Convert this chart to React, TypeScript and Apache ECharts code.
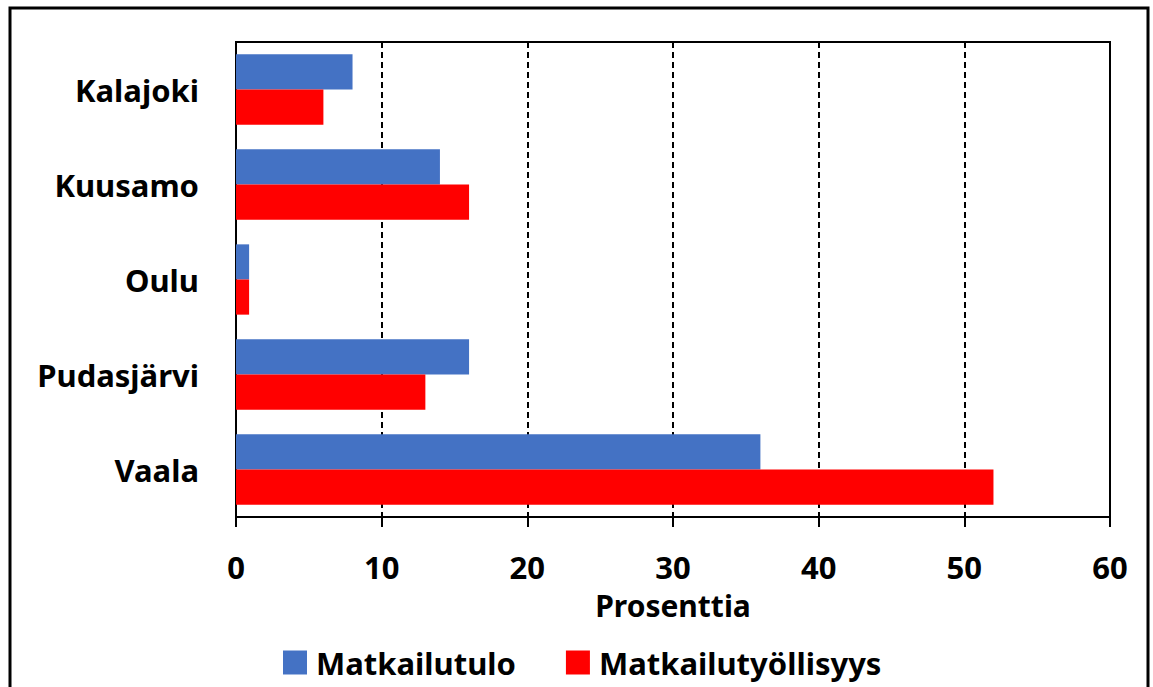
import React, { useEffect, useRef } from "react";
import * as echarts from "echarts";

const categories = ["Kalajoki", "Kuusamo", "Oulu", "Pudasjärvi", "Vaala"];
const seriesNames = ["Matkailutulo", "Matkailutyöllisyys"];
const matkailutulo = [8, 14, 0.9, 16, 36];
const matkailutyollisyys = [6, 16, 0.9, 13, 52];

const FONT = "'Noto Sans', sans-serif";

export default function App() {
  const ref = useRef<HTMLDivElement>(null);
  useEffect(() => {
    if (!ref.current) return;
    const chart = echarts.init(ref.current, undefined, { renderer: "svg" });
    chart.setOption({
      animation: false,
      backgroundColor: "#fff",
      textStyle: { fontFamily: FONT },
      grid: {
        left: 236,
        right: 43,
        top: 42,
        bottom: 170,
        show: true,
        borderColor: "#000",
        borderWidth: 2,
      },
      legend: {
        left: 283,
        top: 647,
        padding: 0,
        itemWidth: 24,
        itemHeight: 24,
        itemGap: 50,
        icon: "rect",
        data: seriesNames,
        textStyle: { fontFamily: FONT, fontSize: 31, fontWeight: "bold", color: "#000", padding: [0, 0, 0, 4] },
      },
      xAxis: {
        type: "value",
        min: 0,
        max: 60,
        interval: 10,
        name: "Prosenttia",
        nameLocation: "middle",
        nameGap: 73,
        nameTextStyle: { fontFamily: FONT, fontSize: 30, fontWeight: "bold", color: "#000" },
        axisLine: { show: true, lineStyle: { color: "#000", width: 2 } },
        axisTick: { show: true, length: 10, lineStyle: { color: "#000", width: 2 } },
        axisLabel: { margin: 34, fontFamily: FONT, fontSize: 31, fontWeight: "bold", color: "#000" },
        splitLine: { show: true, lineStyle: { color: "#000", width: 2, type: [6, 4] } },
      },
      yAxis: {
        type: "category",
        inverse: true,
        data: categories,
        axisLine: { show: true, lineStyle: { color: "#000", width: 2 } },
        axisTick: { show: false },
        axisLabel: { margin: 37, fontFamily: FONT, fontSize: 31, fontWeight: "bold", color: "#000" },
      },
      series: [
        {
          name: seriesNames[0],
          type: "bar",
          data: matkailutulo,
          itemStyle: { color: "#4472C4" },
          barGap: "0%",
          barCategoryGap: "26%",
        },
        {
          name: seriesNames[1],
          type: "bar",
          data: matkailutyollisyys,
          itemStyle: { color: "#FF0000" },
          barGap: "0%",
          barCategoryGap: "26%",
        },
      ],
      graphic: [
        {
          type: "rect",
          shape: { x: 10, y: 8, width: 1138, height: 700 },
          style: { fill: "none", stroke: "#000", lineWidth: 3 },
          silent: true,
        },
      ],
    });
    return () => chart.dispose();
  }, []);
  return (
    <div
      ref={ref}
      style={{ position: "absolute", left: 0, top: 0, width: 1153, height: 687 }}
    />
  );
}
